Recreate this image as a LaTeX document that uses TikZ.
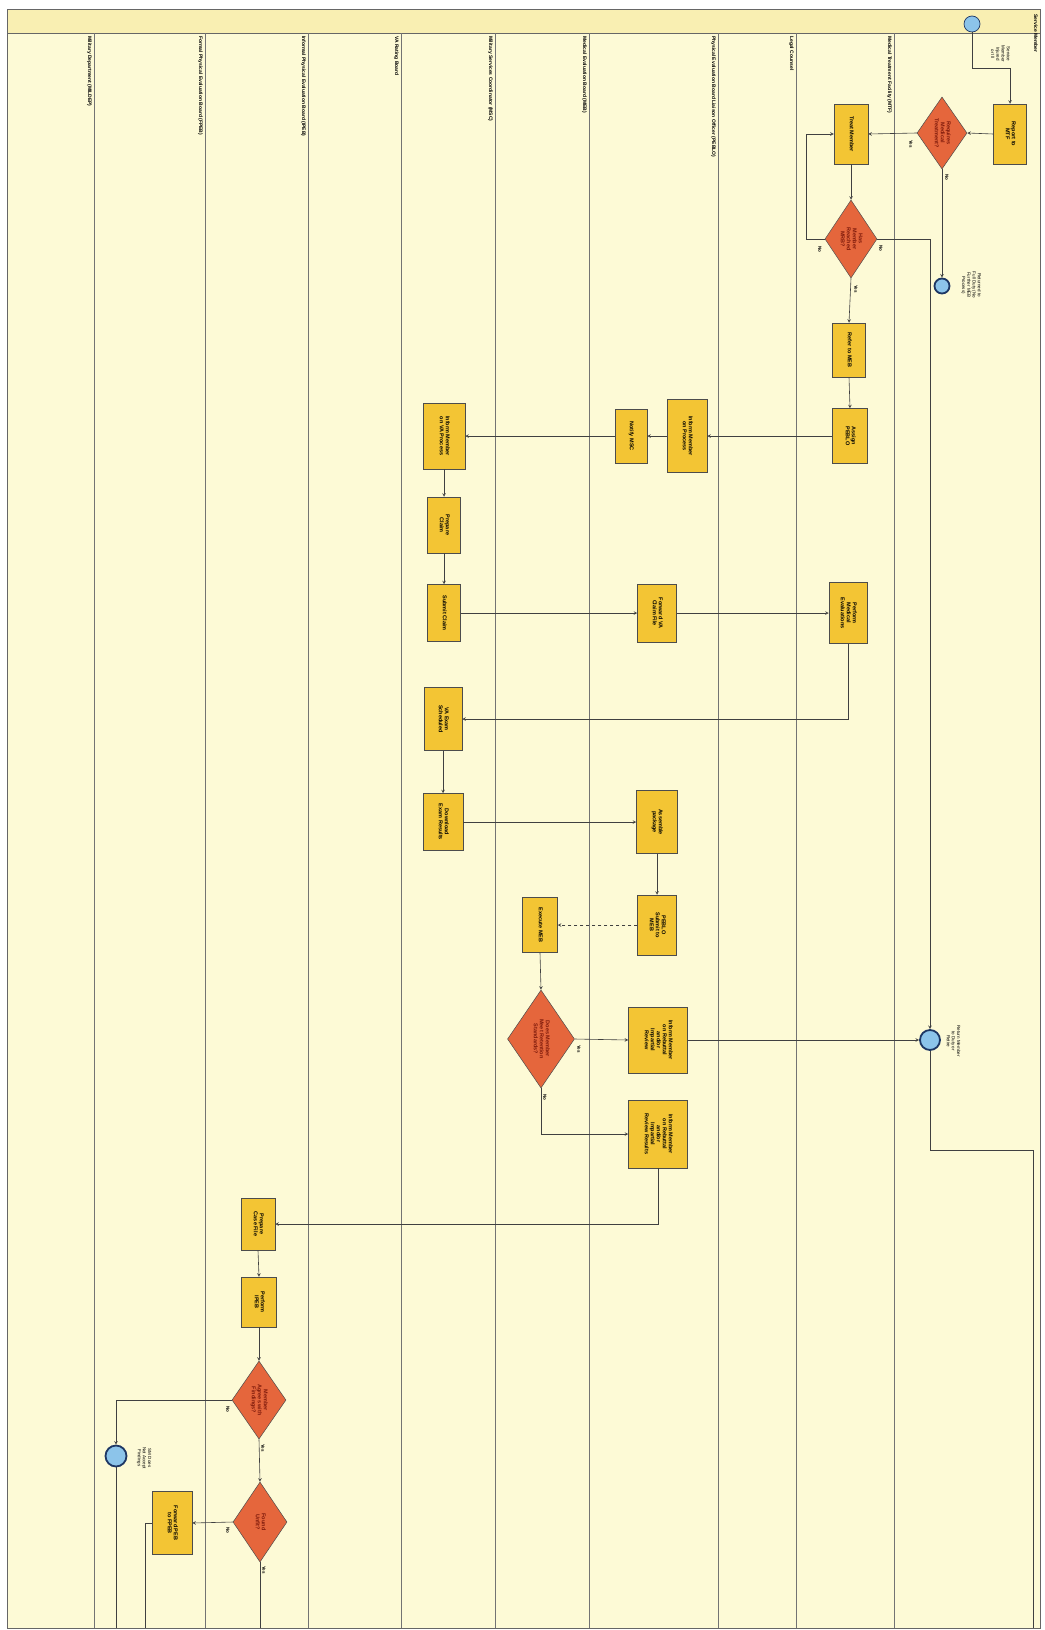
\documentclass[tikz,border=0pt]{standalone}
\usepackage{fontspec}
\setmainfont{Liberation Sans}
\usepackage{graphicx}
\usetikzlibrary{shapes.geometric}

\definecolor{lanebg}{RGB}{253,250,214}
\definecolor{headbg}{RGB}{249,239,178}
\definecolor{taskfill}{RGB}{243,197,52}
\definecolor{gatefill}{RGB}{229,102,60}
\definecolor{gatetext}{RGB}{125,25,10}
\definecolor{evtfill}{RGB}{140,196,234}
\definecolor{evtdraw}{RGB}{30,55,100}

\newcommand{\vtxt}[1]{\rotatebox[origin=c]{-90}{\begin{tabular}{@{}c@{}}#1\end{tabular}}}

\begin{document}
\begin{tikzpicture}[x=1pt,y=-1pt,>=stealth,line width=0.6pt,font=\fontsize{5.5}{6}\selectfont,
  task/.style={rectangle,draw=black!70,fill=taskfill,inner sep=0pt,line width=0.5pt,font=\fontsize{5.5}{6}\selectfont\bfseries},
  gate/.style={diamond,draw=black!70,fill=gatefill,inner sep=0pt,line width=0.5pt},
  gatetxt/.style={text=gatetext,inner sep=0pt,font=\fontsize{5.5}{6}\selectfont\bfseries},
  evt/.style={circle,draw=evtdraw,fill=evtfill,inner sep=0pt,line width=0.7pt},
  endevt/.style={evt,line width=1.8pt},
  lanetxt/.style={inner sep=0pt,anchor=north east,font=\fontsize{5}{6}\selectfont\bfseries},
  evttxt/.style={inner sep=0pt,font=\fontsize{4.5}{5.2}\selectfont},
  tag/.style={inner sep=0pt,font=\fontsize{4.5}{5}\selectfont\bfseries},
  flow/.style={draw=black!75}]
  \useasboundingbox (0,0) rectangle (1044,1630);

  % 泳道背景
  \fill[lanebg] (7,9) rectangle (1040,1628);
  \fill[headbg] (7,9) rectangle (1040,33);
  \draw[black!60,line width=0.7pt] (7,9) rectangle (1040,1628);
  \draw[black!60,line width=0.7pt] (7,33) -- (1040,33);
  \foreach \lx in {94,205,308,401,495,589,718,796,894}
    \draw[black!55,line width=0.5pt] (\lx,33) -- (\lx,1628);

  % 泳道标题
  \node[lanetxt] (lSM)  at (1038,14) {\rotatebox{-90}{Service Member}};
  \node[lanetxt] (lMTF) at (892,36) {\rotatebox{-90}{Medical Treatment Facility (MTF)}};
  \node[lanetxt] (lLC)  at (794,36) {\rotatebox{-90}{Legal Counsel}};
  \node[lanetxt] (lPBL) at (716,36) {\rotatebox{-90}{Physical Evaluation Board Liaison Officer (PEBLO)}};
  \node[lanetxt] (lMEB) at (587,36) {\rotatebox{-90}{Medical Evaluation Board (MEB)}};
  \node[lanetxt] (lMSC) at (493,36) {\rotatebox{-90}{Military Services Coordinator (MSC)}};
  \node[lanetxt] (lVA)  at (399,36) {\rotatebox{-90}{VA Rating Board}};
  \node[lanetxt] (lIPB) at (306,36) {\rotatebox{-90}{Informal Physical Evaluation Board (IPEB)}};
  \node[lanetxt] (lFPB) at (203,36) {\rotatebox{-90}{Formal Physical Evaluation Board (FPEB)}};
  \node[lanetxt] (lMD)  at (92,36)  {\rotatebox{-90}{Military Department (MILDEP)}};

  % 事件
  \node[evt,minimum size=16pt] (start) at (972,24) {};
  \node[evttxt] (startT) at (1000,54) {\vtxt{Service\\Member\\Injured\\or Ill}};
  \node[endevt,minimum size=15pt] (fit) at (942,286) {};
  \node[evttxt] (fitT) at (971,285) {\vtxt{Returned to\\Full Duty (No\\Further MEB\\Process)}};
  \node[endevt,minimum size=20pt] (rtd) at (930,1040) {};
  \node[evttxt] (rtdT) at (953,1041) {\vtxt{Return Member\\to Duty or\\Retire}};
  \node[endevt,minimum size=21pt] (appeal) at (116,1456) {};
  \node[evttxt] (appealT) at (144,1458) {\vtxt{SM Does\\Not Accept\\Findings}};

  % 任务框
  \node[task,minimum width=33pt,minimum height=60pt] (rpt) at (1010,134) {\vtxt{Report to\\MTF}};
  \node[task,minimum width=34pt,minimum height=60pt] (trt) at (851,134) {\vtxt{Treat Member}};
  \node[task,minimum width=33pt,minimum height=54pt] (ref) at (849,350) {\vtxt{Refer to MEB}};
  \node[task,minimum width=35pt,minimum height=55pt] (asg) at (850,436) {\vtxt{Assign\\PEBLO}};
  \node[task,minimum width=40pt,minimum height=73pt] (inf) at (687,436) {\vtxt{Inform Member\\on Process}};
  \node[task,minimum width=32pt,minimum height=54pt] (msc) at (631,436) {\vtxt{Notify MSC}};
  \node[task,minimum width=42pt,minimum height=66pt] (infva) at (444,436) {\vtxt{Inform Member\\on VA Process}};
  \node[task,minimum width=33pt,minimum height=56pt] (prep) at (444,525) {\vtxt{Prepare\\Claim}};
  \node[task,minimum width=33pt,minimum height=57pt] (sub) at (444,613) {\vtxt{Submit Claim}};
  \node[task,minimum width=39pt,minimum height=58pt] (fwd) at (657,613) {\vtxt{Forward VA\\Claim File}};
  \node[task,minimum width=38pt,minimum height=61pt] (med) at (848,613) {\vtxt{Perform\\Medical\\Evaluations}};
  \node[task,minimum width=38pt,minimum height=63pt] (exam) at (443,719) {\vtxt{VA Exam\\Scheduled}};
  \node[task,minimum width=40pt,minimum height=57pt] (dl) at (443,822) {\vtxt{Download\\Exam Results}};
  \node[task,minimum width=41pt,minimum height=63pt] (pkg) at (657,822) {\vtxt{Assemble\\package}};
  \node[task,minimum width=39pt,minimum height=60pt] (psub) at (657,925) {\vtxt{PEBLO\\Submit to\\MEB}};
  \node[task,minimum width=35pt,minimum height=55pt] (xmeb) at (540,925) {\vtxt{Execute MEB}};
  \node[task,minimum width=59pt,minimum height=66pt] (inf1) at (658,1040) {\vtxt{Inform Member\\on Rebuttal\\and/or\\Impartial\\Review}};
  \node[task,minimum width=59pt,minimum height=68pt] (inf2) at (658,1134) {\vtxt{Inform Member\\on Rebuttal\\and/or\\Impartial\\Review Results}};
  \node[task,minimum width=34pt,minimum height=52pt] (case) at (258,1224) {\vtxt{Prepare\\Case File}};
  \node[task,minimum width=35pt,minimum height=50pt] (ipeb) at (259,1302) {\vtxt{Perform\\IPEB}};
  \node[task,minimum width=40pt,minimum height=63pt] (rev) at (172,1523) {\vtxt{Forward PEB\\to FPEB}};

  % 判断
  \node[gate,minimum width=50pt,minimum height=72pt,label={[gatetxt]center:\vtxt{Requires\\Medical\\Treatment?}}] (d1) at (942,133) {};
  \node[gate,minimum width=52pt,minimum height=78pt,label={[gatetxt]center:\vtxt{Has\\Member\\Reached\\MRB?}}] (d2) at (851,239) {};
  \node[gate,minimum width=67pt,minimum height=98pt,label={[gatetxt]center:\vtxt{Does Member\\Meet Retention\\Standards?}}] (d3) at (541,1039) {};
  \node[gate,minimum width=54pt,minimum height=78pt,label={[gatetxt]center:\vtxt{Member\\Agrees with\\Findings?}}] (d4) at (259,1400) {};
  \node[gate,minimum width=54pt,minimum height=80pt,label={[gatetxt]center:\vtxt{Found\\Unfit?}}] (d5) at (260,1522) {};

  % 出页端点
  \coordinate (c1) at (1010,68);
  \coordinate (c2) at (1033,1150);
  \coordinate (o1) at (145,1628);
  \coordinate (o2) at (116,1628);
  \coordinate (o3) at (260,1628);
  \coordinate (o4) at (1033,1628);

  % 连线
  \draw[flow,->] (start.south) |- (c1) -- (rpt.north);
  \draw[flow,->] (rpt.west) -- (d1.east);
  \draw[flow,->] (d1.west) -- (trt.east);
  \draw[flow,->] (d1.south) -- (fit.north);
  \draw[flow,->] (trt.south) -- (d2.north);
  \draw[flow,->] (d2.west) -- ++(-18,0) |- (trt.west);
  \draw[flow,->] (d2.east) -| (rtd.north);
  \draw[flow,->] (d2.south) -- (ref.north);
  \draw[flow,->] (ref.south) -- (asg.north);
  \draw[flow,->] (asg.west) -- (inf.east);
  \draw[flow,->] (inf.west) -- (msc.east);
  \draw[flow,->] (msc.west) -- (infva.east);
  \draw[flow,->] (infva.south) -- (prep.north);
  \draw[flow,->] (prep.south) -- (sub.north);
  \draw[flow,->] (sub.east) -- (fwd.west);
  \draw[flow,->] (fwd.east) -- (med.west);
  \draw[flow,->] (med.south) |- (exam.east);
  \draw[flow,->] (exam.south) -- (dl.north);
  \draw[flow,->] (dl.east) -- (pkg.west);
  \draw[flow,->] (pkg.south) -- (psub.north);
  \draw[flow,->,dashed] (psub.west) -- (xmeb.east);
  \draw[flow,->] (xmeb.south) -- (d3.north);
  \draw[flow,->] (d3.east) -- (inf1.west);
  \draw[flow,->] (inf1.east) -- (rtd.west);
  \draw[flow,->] (d3.south) |- (inf2.west);
  \draw[flow] (rtd.south) |- (c2) -- (o4);
  \draw[flow,->] (inf2.south) |- (case.east);
  \draw[flow,->] (case.south) -- (ipeb.north);
  \draw[flow,->] (ipeb.south) -- (d4.north);
  \draw[flow,->] (d4.west) -| (appeal.north);
  \draw[flow] (appeal.south) -- (o2);
  \draw[flow,->] (d4.south) -- (d5.north);
  \draw[flow,->] (d5.west) -- (rev.east);
  \draw[flow] (rev.west) -| (o1);
  \draw[flow] (d5.south) -- (o3);

  % 分支标注
  \node[tag] (t1) at (911,144) {\rotatebox{-90}{Yes}};
  \node[tag] (t2) at (947,177) {\rotatebox{-90}{No}};
  \node[tag] (t3) at (820,249) {\rotatebox{-90}{No}};
  \node[tag] (t4) at (881,248) {\rotatebox{-90}{No}};
  \node[tag] (t5) at (856,289) {\rotatebox{-90}{Yes}};
  \node[tag] (t6) at (579,1049) {\rotatebox{-90}{Yes}};
  \node[tag] (t7) at (545,1097) {\rotatebox{-90}{No}};
  \node[tag] (t8) at (228,1409) {\rotatebox{-90}{No}};
  \node[tag] (t9) at (263,1448) {\rotatebox{-90}{Yes}};
  \node[tag] (t10) at (228,1530) {\rotatebox{-90}{No}};
  \node[tag] (t11) at (264,1570) {\rotatebox{-90}{Yes}};
\end{tikzpicture}
\end{document}
